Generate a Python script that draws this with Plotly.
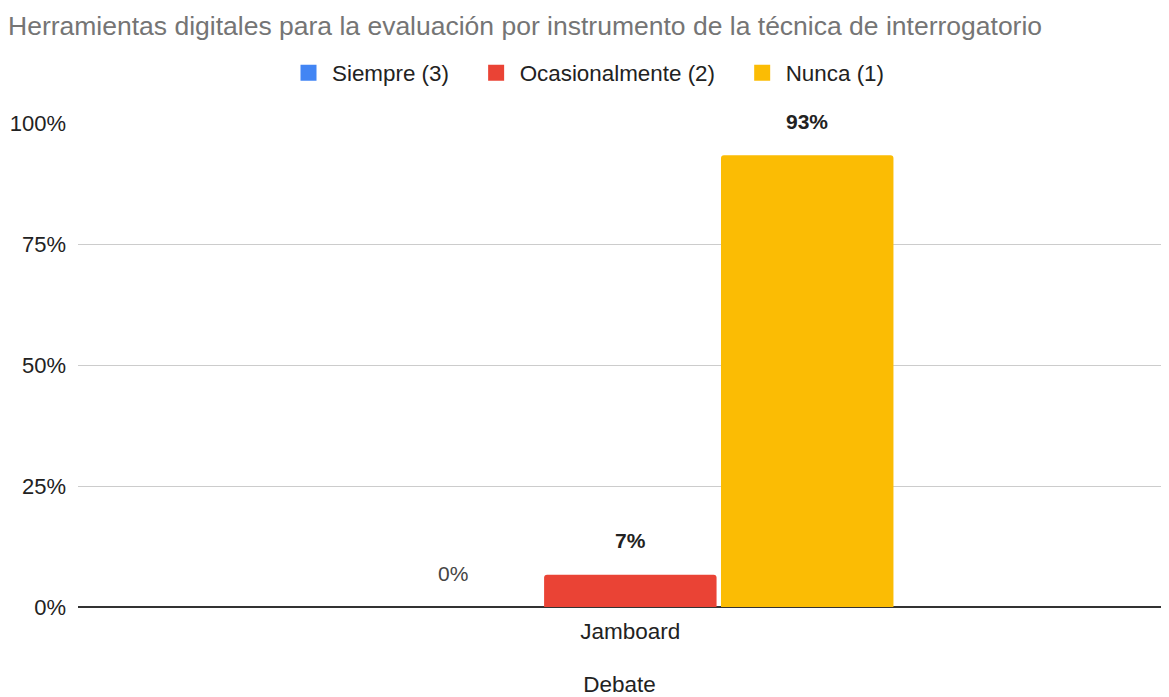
import plotly.graph_objects as go

categories = ["Jamboard"]
series_names = ["Siempre (3)", "Ocasionalmente (2)", "Nunca (1)"]
series_values = [[0.0], [6.67], [93.33]]
series_labels = ["0%", "7%", "93%"]
label_bold = [False, True, True]
colors = ["#4285f4", "#ea4335", "#fbbc04"]
y_ticks = [0, 25, 50, 75, 100]
y_tick_labels = ["0%", "25%", "50%", "75%", "100%"]

FONT = "Liberation Sans, Arial, sans-serif"
W, H = 1153, 705
L, R, T, B = 70, 0, 115, 106

fig = go.Figure()
for name, vals, col in zip(series_names, series_values, colors):
    fig.add_trace(go.Bar(
        x=categories, y=vals, name=name, showlegend=False,
        marker=dict(color=col, cornerradius=3, line=dict(width=0)),
        hoverinfo="skip",
    ))
# legend entries with larger square swatches
pad = "\u00a0" * 3
for i, (name, col) in enumerate(zip(series_names, colors)):
    fig.add_trace(go.Scatter(
        x=[None], y=[None], name=name + (pad if i < len(series_names) - 1 else ""),
        mode="markers",
        marker=dict(symbol="square", size=22, color=col),
        showlegend=True, hoverinfo="skip",
    ))

plot_w = W - L - R
bargap = 0.51
slot = plot_w * (1 - bargap) / 3
for i, (vals, lab, b) in enumerate(zip(series_values, series_labels, label_bold)):
    fig.add_annotation(
        x=categories[0], y=vals[0], xref="x", yref="y",
        text=f"<b>{lab}</b>" if b else lab,
        showarrow=False, yanchor="middle", xanchor="center",
        xshift=(i - 1) * slot, yshift=34,
        font=dict(family=FONT, size=21, color="#222222" if b else "#444444"),
    )

fig.update_layout(
    width=W, height=H,
    paper_bgcolor="white", plot_bgcolor="white",
    margin=dict(l=L, r=R, t=T, b=B, autoexpand=False),
    barmode="group", bargap=bargap, bargroupgap=0.025,
    title=dict(text="Herramientas digitales para la evaluación por instrumento de la técnica de interrogatorio",
               x=0.0, xanchor="left", y=1 - 18 / H, yanchor="middle", pad=dict(l=0),
               font=dict(family=FONT, size=26.5, color="#757575")),
    legend=dict(orientation="h", x=0.47, xanchor="center", y=1.103, yanchor="middle",
                font=dict(family=FONT, size=22.4, color="#222222"),
                traceorder="normal", itemclick=False, itemsizing="trace",
                itemwidth=37),
    font=dict(family=FONT),
    showlegend=True,
)
fig.update_xaxes(
    range=[-0.510, 0.490], showgrid=False, showline=False, ticks="", automargin=False,
    ticklabelstandoff=8,
    tickfont=dict(family=FONT, size=22.5, color="#222222"),
    title=dict(text="Debate", font=dict(family=FONT, size=22.5, color="#222222"), standoff=33),
)
fig.update_yaxes(
    range=[0, 100], tickvals=y_ticks, ticktext=y_tick_labels, automargin=False,
    showgrid=True, gridcolor="#cccccc", gridwidth=1,
    zeroline=True, zerolinecolor="#333333", zerolinewidth=1.5,
    showline=False, ticks="", ticklabelstandoff=11,
    tickfont=dict(family=FONT, size=22, color="#222222"),
)

fig.write_html("out.html")
